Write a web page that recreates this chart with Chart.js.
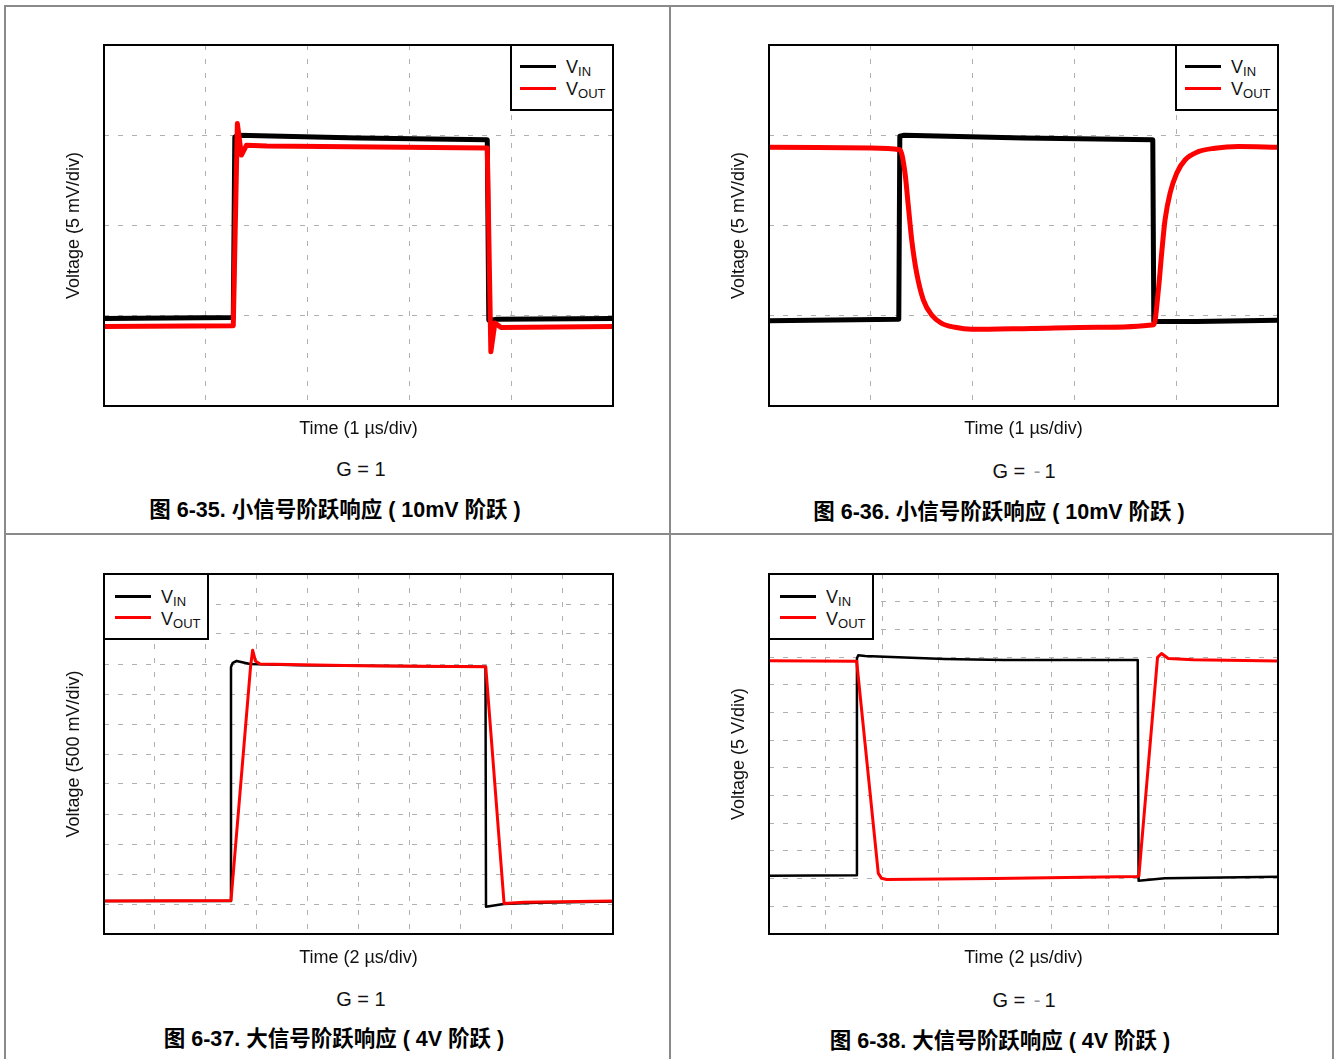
<!DOCTYPE html>
<html lang="zh">
<head>
<meta charset="utf-8">
<title>阶跃响应</title>
<script src="https://cdn.jsdelivr.net/npm/chart.js@4.4.1/dist/chart.umd.min.js"></script>
<style>
  html, body { margin: 0; padding: 0; background: #fff; }
  body {
    position: relative; width: 1336px; height: 1059px; overflow: hidden;
    font-family: "Liberation Sans", Arial, "Noto Sans CJK SC", sans-serif; color: #000;
  }
  .page { position: absolute; left: 4px; top: 5px; width: 1330px; height: 1080px;
          border: 2px solid #8a8a8a; box-sizing: border-box; }
  .hline { position: absolute; left: 4px; top: 533px; width: 1330px; height: 2px; background: #8a8a8a; }
  .vline { position: absolute; left: 669px; top: 5px; width: 2px; height: 1060px; background: #8a8a8a; }
  .plot { position: absolute; }
  .gain { position: absolute; width: 300px; height: 24px; line-height: 24px; text-align: center;
          font-size: 20px; color: #111; white-space: pre; }
  .gain .m { color: #9a9a9a; margin: 0 4px 0 3px; }
  .cap { position: absolute; width: 600px; height: 26px; line-height: 26px; text-align: center;
         font-size: 21.5px; font-weight: bold; white-space: pre; }
  .legend { position: absolute; width: 102px; height: 65px; background: #fff;
            box-sizing: border-box; border: 0 solid #000; }
  .legend .sw { position: absolute; width: 36px; height: 3px; }
  .legend .lab { position: absolute; font-size: 18px; line-height: 18px; white-space: nowrap; color: #111; }
  .legend .lab span { font-size: 13px; vertical-align: -3px; }
</style>
</head>
<body>
<div class="page"></div>
<div class="hline"></div>
<div class="vline"></div>

<canvas id="c1" class="plot" width="551" height="396" style="left:64px;top:43px"></canvas>
<canvas id="c2" class="plot" width="551" height="396" style="left:729px;top:43px"></canvas>
<canvas id="c3" class="plot" width="551" height="396" style="left:64px;top:572px"></canvas>
<canvas id="c4" class="plot" width="551" height="396" style="left:729px;top:572px"></canvas>

<!-- legends -->
<div class="legend" style="left:510px;top:46px;border-left-width:2px;border-bottom-width:2px">
  <div class="sw" style="left:8px;top:19px;background:#000"></div>
  <div class="sw" style="left:8px;top:41px;background:#f00"></div>
  <div class="lab" style="left:54px;top:12px">V<span>IN</span></div>
  <div class="lab" style="left:54px;top:34px">V<span>OUT</span></div>
</div>
<div class="legend" style="left:1175px;top:46px;border-left-width:2px;border-bottom-width:2px">
  <div class="sw" style="left:8px;top:19px;background:#000"></div>
  <div class="sw" style="left:8px;top:41px;background:#f00"></div>
  <div class="lab" style="left:54px;top:12px">V<span>IN</span></div>
  <div class="lab" style="left:54px;top:34px">V<span>OUT</span></div>
</div>
<div class="legend" style="left:105px;top:575px;width:104px;border-right-width:2px;border-bottom-width:2px">
  <div class="sw" style="left:10px;top:20px;background:#000"></div>
  <div class="sw" style="left:10px;top:41px;background:#f00"></div>
  <div class="lab" style="left:56px;top:13px">V<span>IN</span></div>
  <div class="lab" style="left:56px;top:35px">V<span>OUT</span></div>
</div>
<div class="legend" style="left:770px;top:575px;width:104px;border-right-width:2px;border-bottom-width:2px">
  <div class="sw" style="left:10px;top:20px;background:#000"></div>
  <div class="sw" style="left:10px;top:41px;background:#f00"></div>
  <div class="lab" style="left:56px;top:13px">V<span>IN</span></div>
  <div class="lab" style="left:56px;top:35px">V<span>OUT</span></div>
</div>

<!-- gain and captions -->
<div class="gain" style="left:211px;top:457px">G = 1</div>
<div class="gain" style="left:874px;top:459px">G = <span class="m">-</span>1</div>
<div class="gain" style="left:211px;top:987px">G = 1</div>
<div class="gain" style="left:874px;top:988px">G = <span class="m">-</span>1</div>

<div class="cap" style="left:35px;top:497px">图 6-35. 小信号阶跃响应 ( 10mV 阶跃 )</div>
<div class="cap" style="left:699px;top:499px">图 6-36. 小信号阶跃响应 ( 10mV 阶跃 )</div>
<div class="cap" style="left:34px;top:1026px">图 6-37. 大信号阶跃响应 ( 4V 阶跃 )</div>
<div class="cap" style="left:700px;top:1028px">图 6-38. 大信号阶跃响应 ( 4V 阶跃 )</div>

<script>
// Fig 6-35: small signal, G = 1 (time in us, voltage in mV)
const t1In  = [0, 1.27, 1.285, 1.32, 2.5, 3.765, 3.78, 3.85, 5];
const v1In  = [4.85, 4.9, 14.9, 15.0, 14.85, 14.75, 4.75, 4.8, 4.85];
const t1Out = [0, 1.27, 1.31, 1.35, 1.40, 1.6, 3.765, 3.80, 3.84, 3.9, 5];
const v1Out = [4.4, 4.45, 15.65, 13.9, 14.45, 14.4, 14.3, 3.0, 4.6, 4.35, 4.4];

// Fig 6-36: small signal, G = -1 (us, mV)
const t2In  = [0, 1.275, 1.285, 1.33, 2.5, 3.77, 3.78, 4.2, 5];
const v2In  = [4.72, 4.8, 14.95, 15.0, 14.85, 14.75, 4.68, 4.68, 4.75];
const t2Out = [0, 1.0, 1.285, 1.336, 1.369, 1.402, 1.451, 1.516, 1.598, 1.696, 1.827, 1.99,
               2.58, 3.235, 3.78, 3.825, 3.857, 3.89, 3.94, 4.005, 4.087, 4.217, 4.38, 4.61, 5];
const v2Out = [14.33, 14.3, 14.2, 12.9, 11.05, 9.2, 7.35, 5.88, 5.04, 4.58, 4.36, 4.25,
               4.3, 4.36, 4.5, 6.43, 8.45, 10.3, 11.8, 12.9, 13.63, 14.09, 14.28, 14.37, 14.33];

// Fig 6-37: large signal, G = 1 (us, V)
const t3In  = [0, 4.97, 4.99, 5.06, 5.21, 5.74, 7.7, 14.99, 15.01, 15.7, 17, 20];
const v3In  = [0.55, 0.55, 4.45, 4.52, 4.55, 4.5, 4.48, 4.455, 0.455, 0.5, 0.52, 0.54];
const t3Out = [0, 4.99, 5.76, 5.84, 5.95, 6.13, 10, 15.0, 15.72, 16.5, 20];
const v3Out = [0.55, 0.56, 4.46, 4.73, 4.55, 4.5, 4.47, 4.455, 0.51, 0.53, 0.55];

// Fig 6-38: large signal, G = -1 (us, V)
const t4In  = [0, 3.09, 3.11, 3.16, 3.4, 6.2, 8.3, 13.04, 13.07, 14.0, 18];
const v4In  = [1.05, 1.06, 4.98, 5.035, 5.02, 4.965, 4.945, 4.945, 0.96, 1.005, 1.035];
const t4Out = [0, 3.1, 3.865, 3.98, 4.16, 8, 13.0, 13.08, 13.74, 13.88, 14.12, 15, 18];
const v4Out = [4.935, 4.925, 1.095, 1.005, 0.985, 1.0, 1.04, 1.045, 4.995, 5.065, 4.975, 4.95, 4.93];

const FONT = '"Liberation Sans", Arial, sans-serif';

// black box round the plot area, like the scope screenshots
const scopeFrame = {
    id: 'scopeFrame',
    afterDatasetsDraw(chart) {
        const { ctx, chartArea: a } = chart;
        ctx.save();
        ctx.strokeStyle = '#000';
        ctx.lineWidth = 2;
        ctx.strokeRect(a.left, a.top, a.right - a.left, a.bottom - a.top);
        ctx.restore();
    }
};

function points(ts, vs) {
    return ts.map((t, i) => ({ x: t, y: vs[i] }));
}

function scopeChart(id, o) {
    const title = (text, padding) => ({
        display: true,
        text: text,
        color: '#111',
        font: { family: FONT, size: 18, lineHeight: '20px' },
        padding: padding
    });
    return new Chart(document.getElementById(id), {
        type: 'line',
        data: {
            datasets: [
                {
                    label: 'VIN',
                    data: points(o.tIn, o.vIn),
                    borderColor: '#000',
                    borderWidth: o.wIn,
                    order: 1
                },
                {
                    label: 'VOUT',
                    data: points(o.tOut, o.vOut),
                    borderColor: '#ff0000',
                    borderWidth: o.wOut,
                    cubicInterpolationMode: o.smooth ? 'monotone' : 'default',
                    order: 0
                }
            ]
        },
        options: {
            responsive: false,
            animation: false,
            events: [],
            layout: { padding: { top: 2, right: 2, left: 0, bottom: 0 }, autoPadding: false },
            elements: {
                point: { radius: 0 },
                line: { tension: 0, borderJoinStyle: 'round', borderCapStyle: 'round' }
            },
            plugins: {
                legend: { display: false },
                tooltip: { enabled: false }
            },
            scales: {
                x: {
                    type: 'linear',
                    min: 0,
                    max: o.xMax,
                    ticks: { display: false, stepSize: o.xStep },
                    grid: { color: '#b0b0b0', lineWidth: 1, drawTicks: false },
                    border: { display: false, dash: [5, 9] },
                    title: title(o.xTitle, { top: o.xPad, bottom: 0 })
                },
                y: {
                    type: 'linear',
                    min: 0,
                    max: o.yMax,
                    ticks: { display: false, stepSize: o.yStep },
                    grid: { color: '#b0b0b0', lineWidth: 1, drawTicks: false },
                    border: { display: false, dash: [5, 9] },
                    title: title(o.yTitle, { top: 0, bottom: 20 })
                }
            }
        },
        plugins: [scopeFrame]
    });
}

scopeChart('c1', {
    tIn: t1In, vIn: v1In, tOut: t1Out, vOut: v1Out, wIn: 5, wOut: 5,
    xMax: 5, xStep: 1, yMax: 20, yStep: 5, xPad: 13,
    xTitle: 'Time (1 µs/div)', yTitle: 'Voltage (5 mV/div)'
});
scopeChart('c2', {
    tIn: t2In, vIn: v2In, tOut: t2Out, vOut: v2Out, wIn: 5, wOut: 5, smooth: true,
    xMax: 5, xStep: 1, yMax: 20, yStep: 5, xPad: 13,
    xTitle: 'Time (1 µs/div)', yTitle: 'Voltage (5 mV/div)'
});
scopeChart('c3', {
    tIn: t3In, vIn: v3In, tOut: t3Out, vOut: v3Out, wIn: 2.5, wOut: 3,
    xMax: 20, xStep: 2, yMax: 6, yStep: 0.5, xPad: 14,
    xTitle: 'Time (2 µs/div)', yTitle: 'Voltage (500 mV/div)'
});
scopeChart('c4', {
    tIn: t4In, vIn: v4In, tOut: t4Out, vOut: v4Out, wIn: 2.5, wOut: 3,
    xMax: 18, xStep: 2, yMax: 6.5, yStep: 0.5, xPad: 14,
    xTitle: 'Time (2 µs/div)', yTitle: 'Voltage (5 V/div)'
});
</script>
</body>
</html>
